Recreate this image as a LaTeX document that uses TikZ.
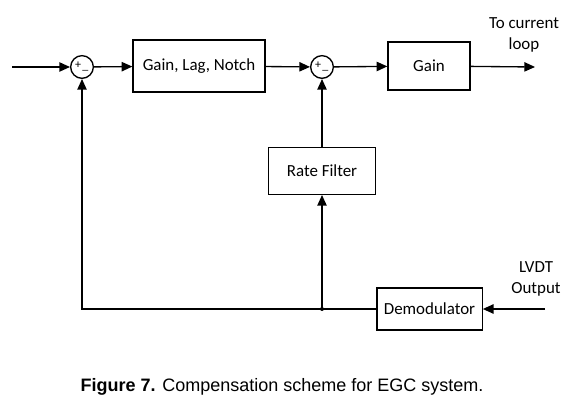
\documentclass[tikz,border=0pt]{standalone}
\usepackage{fontspec}
\setmainfont{Carlito}
\newfontfamily\capfont{Liberation Sans}
\usetikzlibrary{positioning,arrows.meta}

\begin{document}
\begin{tikzpicture}[
  x=0.75pt, y=-0.75pt,
  font=\fontsize{12.7}{15}\selectfont,
  line width=1pt,
  >={Triangle[length=8pt,width=7pt]},
  blk/.style={draw, align=center, inner sep=2pt},
  sumpt/.style={draw, circle, minimum size=17pt, inner sep=0pt},
  sgn/.style={font=\fontsize{9}{9}\selectfont, inner sep=0pt},
  note/.style={align=center, font=\fontsize{12.7}{16}\selectfont},
]
\useasboundingbox (0,0) rectangle (580,409);

% forward path
\coordinate (in) at (12,67);
\node[sumpt] (s1) at (82,67) {};
\node[blk, minimum width=99pt, minimum height=39pt] (gln) at (199,66) {Gain, Lag, Notch};
\node[sumpt] (s2) at (322,67) {};
\node[blk, minimum width=61.5pt, minimum height=36pt] (gain) at (429,66) {Gain};
\coordinate (out) at (535,67);
\node[note] (tocur) at (524,35) {To current\\loop};

% signs on the summing points
\node[sgn] at ([xshift=-3pt,yshift=1pt]s1.center) {+};
\node[sgn] at ([xshift=2.6pt,yshift=-2.4pt]s1.center) {\_};
\node[sgn] at ([xshift=-3pt,yshift=1pt]s2.center) {+};
\node[sgn] at ([xshift=2.6pt,yshift=-2.4pt]s2.center) {\_};

% feedback path
\node[blk, minimum width=80pt, minimum height=35pt] (rate) at (322,171) {Rate Filter};
\node[blk, minimum width=79pt, minimum height=31.5pt] (demod) at (429.5,309) {Demodulator};
\coordinate (lvdt) at (545,309);
\coordinate (tap) at (322,309);
\node[note] (lvdtlbl) at (536,279) {LVDT\\Output};

\draw[->] (in) -- (s1);
\draw[->] (s1) -- (gln);
\draw[->] (gln) -- (s2);
\draw[->] (s2) -- (gain);
\draw[->] (gain) -- (out);
\draw[->] (lvdt) -- (demod);
\draw (demod) -- (tap);
\fill (tap) circle (1.5pt);
\draw[->] (tap) -| (s1);
\draw[->] (tap) -- (rate);
\draw[->] (rate) -- (s2);

% caption
\node[font=\capfont\fontsize{13.5}{15}\selectfont] (cap) at (282,387)
  {\textbf{Figure 7.} Compensation scheme for EGC system.};
\end{tikzpicture}
\end{document}
